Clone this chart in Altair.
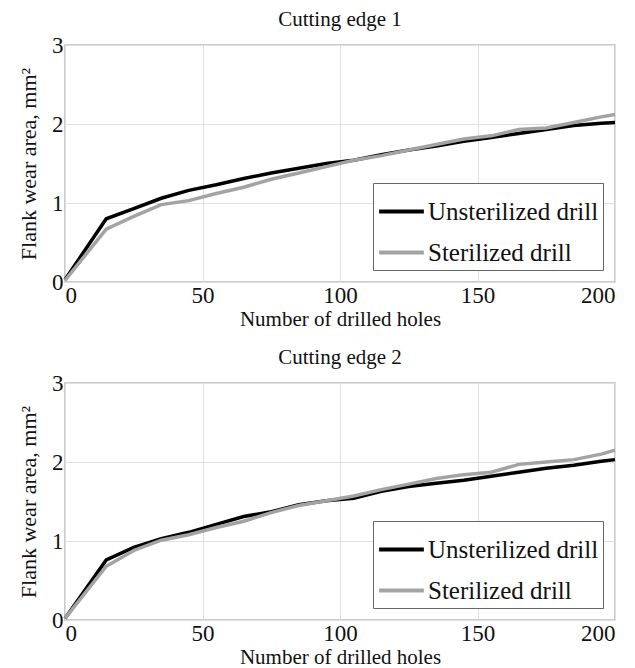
import altair as alt
import pandas as pd

holes = [0, 15, 25, 35, 45, 55, 65, 75, 85, 95, 105, 115, 125, 135, 145, 155, 165, 175, 185, 195, 200]

edge1_unsterilized = [0.03, 0.80, 0.93, 1.06, 1.16, 1.23, 1.31, 1.38, 1.44, 1.50, 1.54, 1.61, 1.67, 1.72, 1.78, 1.83, 1.88, 1.93, 1.98, 2.01, 2.02]
edge1_sterilized = [0.02, 0.67, 0.83, 0.98, 1.03, 1.12, 1.20, 1.30, 1.38, 1.46, 1.54, 1.60, 1.67, 1.74, 1.81, 1.85, 1.93, 1.95, 2.02, 2.09, 2.12]

edge2_unsterilized = [0.02, 0.76, 0.92, 1.03, 1.11, 1.21, 1.31, 1.37, 1.46, 1.51, 1.54, 1.63, 1.69, 1.73, 1.77, 1.82, 1.87, 1.92, 1.96, 2.01, 2.03]
edge2_sterilized = [0.02, 0.68, 0.88, 1.01, 1.08, 1.17, 1.25, 1.36, 1.45, 1.51, 1.57, 1.65, 1.72, 1.79, 1.84, 1.87, 1.97, 2.00, 2.03, 2.10, 2.15]

series_names = ["Unsterilized drill", "Sterilized drill"]
series_colors = ["#000000", "#a3a3a3"]
x_ticks = [0, 50, 100, 150, 200]
y_ticks = [0, 1, 2, 3]

FONT = "Liberation Serif"


def make_df(unster, ster):
    rows = []
    for h, v in zip(holes, unster):
        rows.append({"holes": h, "wear": v, "series": series_names[0]})
    for h, v in zip(holes, ster):
        rows.append({"holes": h, "wear": v, "series": series_names[1]})
    return pd.DataFrame(rows)


def panel(df, title, height):
    return alt.Chart(df, title=alt.Title(title, font=FONT, fontSize=21, fontWeight="normal", color="#111", offset=4)).mark_line(
        strokeWidth=3.5
    ).encode(
        x=alt.X("holes:Q", scale=alt.Scale(domain=[0, 200], nice=False),
                axis=alt.Axis(values=x_ticks, title="Number of drilled holes", titlePadding=1, titleFontSize=21)),
        y=alt.Y("wear:Q", scale=alt.Scale(domain=[0, 3], nice=False),
                axis=alt.Axis(values=y_ticks, title="Flank wear area, mm\u00b2", titlePadding=11, titleFontSize=22)),
        color=alt.Color("series:N", scale=alt.Scale(domain=series_names, range=series_colors),
                        sort=series_names,
                        legend=alt.Legend(title=None, orient="bottom-right", offset=12,
                                          symbolType="stroke", symbolSize=2000, symbolStrokeWidth=3.8,
                                          labelFont=FONT, labelFontSize=25, labelColor="#111", labelLimit=400,
                                          strokeColor="#666", fillColor="white", padding=4,
                                          rowPadding=3, labelOffset=2)),
        order=alt.Order("holes:Q"),
    ).properties(width=550, height=height)


top = panel(make_df(edge1_unsterilized, edge1_sterilized), "Cutting edge 1", 237)
bottom = panel(make_df(edge2_unsterilized, edge2_sterilized), "Cutting edge 2", 237)

chart = alt.vconcat(top, bottom, spacing=16).resolve_scale(color="independent").resolve_legend(color="independent").configure_axis(
    labelFont=FONT, labelFontSize=23, labelColor="#111",
    titleFont=FONT, titleFontWeight="normal", titleColor="#111",
    grid=True, gridColor="#e0e0e0", domain=False, tickSize=0, labelPadding=2,
).configure_view(stroke="#bbbbbb", strokeWidth=1.5).properties(padding={"left": 8, "top": 0, "right": 4, "bottom": 0})

chart.save("out.html", embed_options={"renderer": "svg", "actions": False})
